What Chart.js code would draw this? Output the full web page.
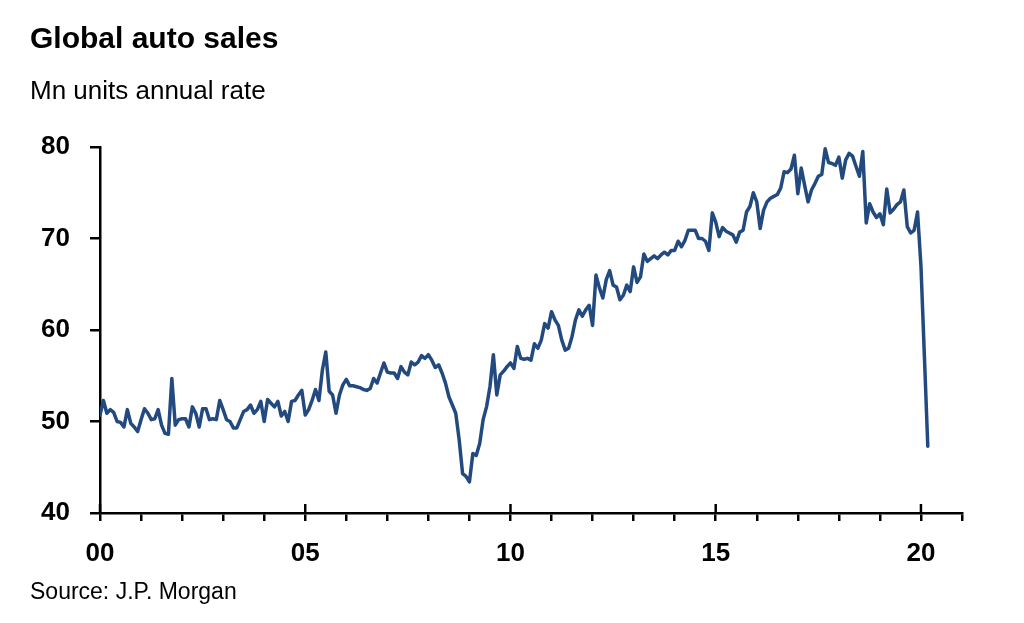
<!DOCTYPE html>
<html>
<head>
<meta charset="utf-8">
<script src="https://cdn.jsdelivr.net/npm/chart.js@4.4.1/dist/chart.umd.min.js"></script>
<style>
  body { margin: 0; background: #fff; }
  #wrap { position: relative; width: 1024px; height: 623px; overflow: hidden; }
  #chart { position: absolute; left: 0; top: 0; }
  .txt { position: absolute; left: 30px; color: #000; font-family: 'Liberation Sans', Arial, sans-serif; white-space: nowrap; }
  #title { top: 23px; font-size: 30px; line-height: 30px; font-weight: bold; }
  #subtitle { top: 77px; font-size: 26px; line-height: 26px; }
  #source { top: 580px; font-size: 23px; line-height: 23px; }
</style>
</head>
<body>
<div id="wrap">
  <canvas id="chart" width="1024" height="623"></canvas>
  <div class="txt" id="title">Global auto sales</div>
  <div class="txt" id="subtitle">Mn units annual rate</div>
  <div class="txt" id="source">Source: J.P. Morgan</div>
</div>
<script>
// monthly series, Jan 2000 onwards
const startYear = 2000;
const sales = [
  50.7, 52.3, 50.9, 51.3, 51.0, 50.0, 49.9, 49.4, 51.3, 49.8, 49.4, 48.9, // 2000
  50.2, 51.4, 50.9, 50.2, 50.3, 51.3, 49.6, 48.7, 48.6, 54.7, 49.6, 50.2, // 2001
  50.3, 50.3, 49.4, 51.6, 50.9, 49.4, 51.4, 51.4, 50.2, 50.3, 50.2, 52.3, // 2002
  51.3, 50.2, 50.0, 49.3, 49.3, 50.2, 51.1, 51.3, 51.8, 50.9, 51.3, 52.2, // 2003
  50.0, 52.4, 52.0, 51.6, 52.2, 50.6, 51.1, 50.0, 52.2, 52.3, 52.9, 53.4, // 2004
  50.7, 51.3, 52.3, 53.5, 52.3, 55.6, 57.6, 53.3, 52.9, 50.9, 52.9, 54.0, // 2005
  54.6, 53.9, 53.9, 53.8, 53.7, 53.5, 53.4, 53.6, 54.7, 54.2, 55.3, 56.4, // 2006
  55.4, 55.3, 55.3, 54.7, 56.0, 55.4, 55.1, 56.5, 56.2, 56.5, 57.2, 56.9, // 2007
  57.3, 56.7, 55.9, 56.2, 55.3, 54.2, 52.7, 51.8, 50.9, 48.0, 44.3, 44.0, // 2008
  43.4, 46.5, 46.3, 47.6, 50.2, 51.6, 53.8, 57.3, 52.9, 55.1, 55.5, 56.0, // 2009
  56.4, 55.8, 58.2, 56.9, 56.8, 56.9, 56.7, 58.5, 58.0, 58.9, 60.7, 60.2, // 2010
  62.0, 61.1, 60.5, 58.9, 57.8, 58.0, 59.3, 61.1, 62.2, 61.5, 62.2, 62.7, // 2011
  60.5, 66.0, 64.6, 63.5, 65.5, 66.5, 64.9, 64.7, 63.3, 63.8, 64.9, 64.2, // 2012
  66.9, 65.2, 65.8, 68.3, 67.5, 67.8, 68.1, 67.8, 68.2, 68.5, 68.2, 68.7, // 2013
  68.7, 69.7, 69.1, 69.8, 70.9, 70.9, 70.9, 70.0, 70.0, 69.7, 68.7, 72.8, // 2014
  71.8, 70.2, 71.2, 70.8, 70.6, 70.4, 69.6, 70.7, 70.9, 72.9, 73.5, 75.0, // 2015
  74.0, 71.1, 73.1, 74.0, 74.4, 74.6, 74.8, 75.5, 77.3, 77.2, 77.6, 79.1, // 2016
  74.9, 77.7, 75.8, 74.0, 75.3, 76.0, 76.8, 77.0, 79.8, 78.3, 78.2, 78.0, // 2017
  78.9, 76.6, 78.6, 79.3, 79.0, 77.9, 76.8, 79.5, 71.7, 73.8, 72.9, 72.3, // 2018
  72.7, 71.5, 75.4, 72.8, 73.2, 73.7, 74.0, 75.3, 71.3, 70.6, 70.9, 72.9, // 2019
  67.0, 57.2, 47.3                                                        // 2020
];
const xMin = 2000;
const xMax = 2021;
const xLabelYears = [2000, 2005, 2010, 2015, 2020];
const yTicks = [40, 50, 60, 70, 80];

const points = sales.map((v, i) => ({ x: startYear + i / 12, y: v }));
const tickFont = { family: "'Liberation Sans', Arial, sans-serif", size: 26, weight: 'bold' };

// major year ticks cross the axis: draw the part above the line
const majorTicks = {
    id: 'majorTicks',
    afterDraw(chart) {
        const xs = chart.scales.x;
        const ctx = chart.ctx;
        ctx.save();
        ctx.strokeStyle = '#000';
        ctx.lineWidth = 2.5;
        xLabelYears.forEach(yr => {
            const px = xs.getPixelForValue(yr);
            ctx.beginPath();
            ctx.moveTo(px, xs.top - 9);
            ctx.lineTo(px, xs.top);
            ctx.stroke();
        });
        ctx.restore();
    }
};

new Chart(document.getElementById('chart'), {
    type: 'line',
    data: {
        datasets: [{
            data: points,
            borderColor: '#234a7f',
            borderWidth: 3.5,
            borderJoinStyle: 'round',
            borderCapStyle: 'round',
            pointRadius: 0,
            tension: 0,
            fill: false
        }]
    },
    options: {
        responsive: false,
        animation: false,
        devicePixelRatio: 1,
        layout: { padding: { top: 147, right: 62, left: 0, bottom: 0 } },
        plugins: { legend: { display: false }, tooltip: { enabled: false } },
        scales: {
            x: {
                type: 'linear',
                min: xMin,
                max: xMax,
                afterFit: s => { s.height = 110; },
                afterBuildTicks: s => {
                    const t = [];
                    for (let yr = xMin; yr <= xMax; yr++) t.push({ value: yr });
                    s.ticks = t;
                },
                ticks: {
                    autoSkip: false,
                    maxRotation: 0,
                    padding: 17,
                    color: '#000',
                    font: tickFont,
                    callback: v => xLabelYears.includes(v) ? String(v % 100).padStart(2, '0') : ''
                },
                grid: { drawOnChartArea: false, drawTicks: true, tickLength: 8, color: '#000', lineWidth: 2.5 },
                border: { display: true, color: '#000', width: 2.5 }
            },
            y: {
                min: 40,
                max: 80,
                afterFit: s => { s.width = 100; },
                afterBuildTicks: s => { s.ticks = yTicks.map(v => ({ value: v })); },
                ticks: { padding: 20, color: '#000', font: tickFont },
                grid: { drawOnChartArea: false, drawTicks: true, tickLength: 10, color: '#000', lineWidth: 2.5 },
                border: { display: true, color: '#000', width: 2.5 }
            }
        }
    },
    plugins: [majorTicks]
});
</script>
</body>
</html>
